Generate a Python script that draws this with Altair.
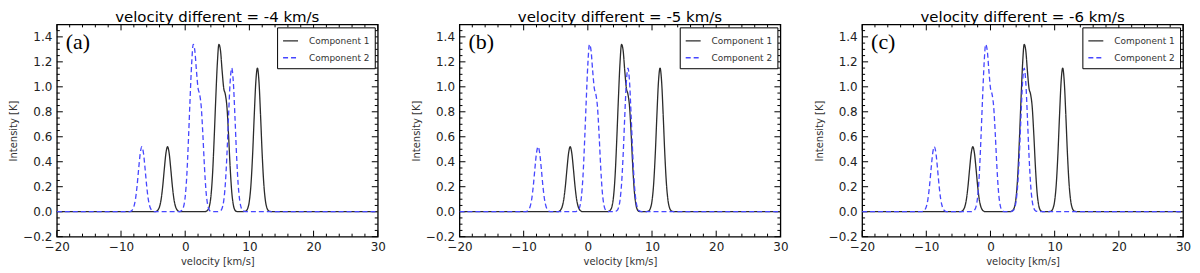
import altair as alt
import pandas as pd

# ---------------- data ----------------
shifts = [-4, -5, -6]
titles = ["velocity different = -4 km/s",
          "velocity different = -5 km/s",
          "velocity different = -6 km/s"]
panel_labels = ["(a)", "(b)", "(c)"]
series_names = ["Component 1", "Component 2"]

# Component 1 line profile (velocity [km/s], intensity [K]); Component 2 is the
# same profile shifted by the velocity difference given in each panel title.
profile_v = [-20.0,
             -4.75, -4.5, -4.25, -4.0, -3.75, -3.5, -3.25, -3.0, -2.75, -2.5,
             -2.25, -2.0, -1.75, -1.5, -1.25, -1.0, -0.75,
             3.0, 3.25, 3.5, 3.75, 4.0, 4.25, 4.5, 4.75, 5.0, 5.25, 5.5, 5.75,
             6.0, 6.25, 6.5, 6.75, 7.0, 7.25, 7.5, 7.75, 8.0, 8.25,
             9.0, 9.25, 9.5, 9.75, 10.0, 10.25, 10.5, 10.75, 11.0, 11.25, 11.5,
             11.75, 12.0, 12.25, 12.5, 12.75, 13.0, 13.25, 13.5,
             30.0]
profile_T = [0.0,
             0.000, 0.003, 0.013, 0.040, 0.099, 0.205, 0.344, 0.469, 0.520, 0.469,
             0.344, 0.205, 0.099, 0.040, 0.013, 0.003, 0.000,
             0.000, 0.003, 0.012, 0.040, 0.120, 0.290, 0.570, 0.890, 1.180, 1.340, 1.290, 1.130,
             0.990, 0.940, 0.840, 0.620, 0.360, 0.160, 0.055, 0.013, 0.002, 0.000,
             0.000, 0.002, 0.007, 0.028, 0.087, 0.220, 0.454, 0.761, 1.037, 1.150, 1.037,
             0.761, 0.454, 0.220, 0.087, 0.028, 0.007, 0.002, 0.000,
             0.0]

x_domain = [-20, 30]
y_domain = [-0.2, 1.5]
x_major = [-20, -10, 0, 10, 20, 30]
x_minor = [-18, -16, -14, -12, -8, -6, -4, -2, 2, 4, 6, 8, 12, 14, 16, 18, 22, 24, 26, 28]
y_major = [-0.2, 0.0, 0.2, 0.4, 0.6, 0.8, 1.0, 1.2, 1.4]
y_minor = [-0.15, -0.1, -0.05, 0.05, 0.1, 0.15, 0.25, 0.3, 0.35, 0.45, 0.5, 0.55,
           0.65, 0.7, 0.75, 0.85, 0.9, 0.95, 1.05, 1.1, 1.15, 1.25, 1.3, 1.35, 1.45]

# ---------------- styling ----------------
W, H = 322, 213
BLACK = "#2b2b2b"
BLUE = "#4646ff"
MAJ, MIN = 6, 3

xs = alt.Scale(domain=x_domain, nice=False, zero=False, padding=0)
ys = alt.Scale(domain=y_domain, nice=False, zero=False, padding=0)
xaxis = alt.Axis(values=x_major, ticks=False, domain=False, grid=False, labelFlush=False,
                 labelPadding=5, format="d", title="velocity [km/s]", titlePadding=4)
yaxis = alt.Axis(values=y_major, ticks=False, domain=False, grid=False, labelFlush=False,
                 labelPadding=5, format=".1f", title="Intensity [K]", titlePadding=4)


def xticks(values, length, top):
    d = pd.DataFrame({"v": values})
    if top:
        yv, y2v = alt.value(0), alt.value(length)
    else:
        yv, y2v = alt.value(H), alt.value(H - length)
    return alt.Chart(d).mark_rule(color="black", strokeWidth=1).encode(
        x=alt.X("v:Q", scale=xs, axis=xaxis), y=yv, y2=y2v)


def yticks(values, length, right):
    d = pd.DataFrame({"T": values})
    if right:
        xv, x2v = alt.value(W), alt.value(W - length)
    else:
        xv, x2v = alt.value(0), alt.value(length)
    return alt.Chart(d).mark_rule(color="black", strokeWidth=1).encode(
        y=alt.Y("T:Q", scale=ys, axis=yaxis), x=xv, x2=x2v)


def panel(i):
    rows = []
    for name, off in zip(series_names, [0, shifts[i]]):
        for v, t in zip(profile_v, profile_T):
            vv = v + off if -20 < v < 30 else v
            rows.append({"v": vv, "T": t, "series": name})
    df = pd.DataFrame(rows)

    lines = alt.Chart(df).mark_line(interpolate="monotone", strokeWidth=1.3, clip=True).encode(
        x=alt.X("v:Q", scale=xs, axis=xaxis),
        y=alt.Y("T:Q", scale=ys, axis=yaxis),
        color=alt.Color("series:N",
                        scale=alt.Scale(domain=series_names, range=[BLACK, BLUE]),
                        legend=alt.Legend(title=None)),
        strokeDash=alt.StrokeDash("series:N",
                                  scale=alt.Scale(domain=series_names, range=[[1, 0], [5, 3]]),
                                  legend=alt.Legend(title=None)),
        order=alt.Order("v:Q"),
    )

    label = alt.Chart(pd.DataFrame({"lab": [panel_labels[i]]})).mark_text(
        font="Liberation Serif", fontSize=22, align="left", baseline="top", color="black"
    ).encode(x=alt.value(9), y=alt.value(8), text="lab:N")

    layers = [
        xticks(x_major, MAJ, False), xticks(x_minor, MIN, False),
        xticks(x_major, MAJ, True), xticks(x_minor, MIN, True),
        yticks(y_major, MAJ, False), yticks(y_minor, MIN, False),
        yticks(y_major, MAJ, True), yticks(y_minor, MIN, True),
        lines, label,
    ]
    return alt.layer(*layers).properties(width=W, height=H, title=titles[i])


chart = alt.hconcat(*[panel(i) for i in range(3)], spacing=24).resolve_legend(
    color="independent", strokeDash="independent"
).properties(padding=0).configure_axis(
    labelFont="DejaVu Sans", labelFontSize=12, labelColor="#222",
    titleFont="DejaVu Sans", titleFontSize=10, titleFontWeight="normal", titleColor="#333",
).configure_title(
    font="DejaVu Sans", fontSize=15, fontWeight="normal", color="black", offset=-1, anchor="middle"
).configure_view(
    stroke="black", strokeWidth=1.3
).configure_legend(
    orient="top-right", offset=3, padding=5, strokeColor="black", fillColor="white",
    labelFont="DejaVu Sans", labelFontSize=9, labelColor="#333", symbolType="stroke",
    symbolSize=225, symbolStrokeWidth=1.3, rowPadding=3, labelOffset=10, cornerRadius=0,
    strokeWidth=1,
)

chart.save("out.html", embed_options={"renderer": "svg", "actions": False})
